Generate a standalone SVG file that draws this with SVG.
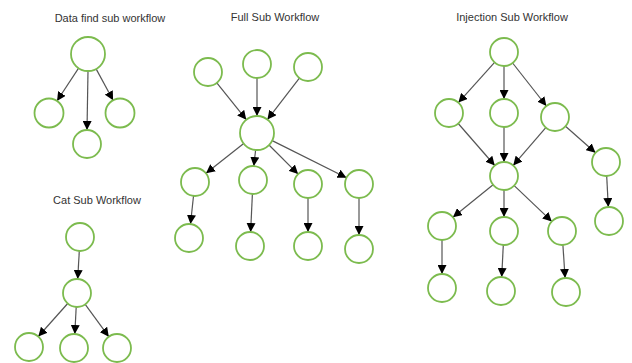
<svg xmlns="http://www.w3.org/2000/svg" width="632" height="363" viewBox="0 0 632 363">
<defs>
<marker id="ah" viewBox="0 0 10 10" refX="10" refY="5" markerWidth="9" markerHeight="9" markerUnits="userSpaceOnUse" orient="auto">
<path d="M0,0 L10,5 L0,10 z" fill="#000"/>
</marker>
<style>
.n{fill:#fff;stroke:#7cbb4e;stroke-width:1.8}
.e{stroke:#555;stroke-width:1.2;fill:none;marker-end:url(#ah)}
.t{font-family:"Liberation Sans",Arial,sans-serif;font-size:11px;fill:#333;text-anchor:middle}
</style>
</defs>
<rect width="632" height="363" fill="#fff"/>
<g id="titles">
<text class="t" x="110" y="22">Data find sub workflow</text>
<text class="t" x="97" y="204">Cat Sub Workflow</text>
<text class="t" x="275" y="21">Full Sub Workflow</text>
<text class="t" x="512" y="21">Injection Sub Workflow</text>
</g>
<g id="connectors">
<line class="e" x1="78.6" y1="68.2" x2="57" y2="101"/>
<line class="e" x1="88" y1="71" x2="87" y2="130"/>
<line class="e" x1="96.1" y1="68.9" x2="113.1" y2="100.3"/>
<line class="e" x1="79.3" y1="251" x2="77.7" y2="279"/>
<line class="e" x1="67.7" y1="303.5" x2="38.3" y2="336.5"/>
<line class="e" x1="76.2" y1="307" x2="74.8" y2="334"/>
<line class="e" x1="85.2" y1="304.3" x2="108.8" y2="336.7"/>
<line class="e" x1="216.8" y1="82.9" x2="246.3" y2="119.7"/>
<line class="e" x1="257" y1="78" x2="257" y2="116"/>
<line class="e" x1="299.4" y1="78.1" x2="267.4" y2="119.6"/>
<line class="e" x1="243.7" y1="143.5" x2="206" y2="173.3"/>
<line class="e" x1="255.6" y1="150" x2="253.8" y2="166"/>
<line class="e" x1="269" y1="145" x2="298.1" y2="174.1"/>
<line class="e" x1="272.2" y1="140.6" x2="346.5" y2="177.7"/>
<line class="e" x1="193.5" y1="196" x2="190.5" y2="224"/>
<line class="e" x1="252.4" y1="194" x2="250.6" y2="232"/>
<line class="e" x1="308" y1="198" x2="308" y2="232"/>
<line class="e" x1="359" y1="198" x2="359" y2="235"/>
<line class="e" x1="494.6" y1="62.4" x2="458.4" y2="102.6"/>
<line class="e" x1="504" y1="66" x2="504" y2="99"/>
<line class="e" x1="512.6" y1="63" x2="546.4" y2="106"/>
<line class="e" x1="458.2" y1="123.5" x2="494.8" y2="165.5"/>
<line class="e" x1="504" y1="127" x2="504" y2="162"/>
<line class="e" x1="545.8" y1="127.6" x2="513.2" y2="165.4"/>
<line class="e" x1="565.5" y1="126.3" x2="595.5" y2="152.7"/>
<line class="e" x1="606.7" y1="176" x2="608.3" y2="207"/>
<line class="e" x1="493.1" y1="184.8" x2="452.9" y2="217.2"/>
<line class="e" x1="504" y1="190" x2="504" y2="217"/>
<line class="e" x1="514.2" y1="185.6" x2="551.8" y2="221.4"/>
<line class="e" x1="442" y1="240" x2="442" y2="274"/>
<line class="e" x1="503.3" y1="245" x2="501.7" y2="277"/>
<line class="e" x1="562.9" y1="245" x2="565.1" y2="278"/>
</g>
<g id="data-find">
<g id="df-root"><circle class="n" cx="88" cy="54" r="17"/></g>
<g id="df-left"><circle class="n" cx="49" cy="113" r="14.5"/></g>
<g id="df-mid"><circle class="n" cx="87" cy="144" r="14"/></g>
<g id="df-right"><circle class="n" cx="120" cy="113" r="14.5"/></g>
</g>
<g id="cat">
<g id="cat-top"><circle class="n" cx="80" cy="237" r="14"/></g>
<g id="cat-mid"><circle class="n" cx="77" cy="293" r="14"/></g>
<g id="cat-bl"><circle class="n" cx="29" cy="347" r="14"/></g>
<g id="cat-bm"><circle class="n" cx="74" cy="348" r="14"/></g>
<g id="cat-br"><circle class="n" cx="117" cy="348" r="14"/></g>
</g>
<g id="full">
<g id="full-tl"><circle class="n" cx="208" cy="72" r="14"/></g>
<g id="full-tm"><circle class="n" cx="257" cy="64" r="14"/></g>
<g id="full-tr"><circle class="n" cx="308" cy="67" r="14"/></g>
<g id="full-c"><circle class="n" cx="257" cy="133" r="17"/></g>
<g id="full-a"><circle class="n" cx="195" cy="182" r="14"/></g>
<g id="full-b"><circle class="n" cx="253" cy="180" r="14"/></g>
<g id="full-cc"><circle class="n" cx="308" cy="184" r="14"/></g>
<g id="full-d"><circle class="n" cx="359" cy="184" r="14"/></g>
<g id="full-a2"><circle class="n" cx="189" cy="238" r="14"/></g>
<g id="full-b2"><circle class="n" cx="250" cy="246" r="14"/></g>
<g id="full-c2"><circle class="n" cx="308" cy="246" r="14"/></g>
<g id="full-d2"><circle class="n" cx="359" cy="249" r="14"/></g>
</g>
<g id="injection">
<g id="inj-top"><circle class="n" cx="504" cy="52" r="14"/></g>
<g id="inj-l"><circle class="n" cx="449" cy="113" r="14"/></g>
<g id="inj-m"><circle class="n" cx="504" cy="113" r="14"/></g>
<g id="inj-r"><circle class="n" cx="555" cy="117" r="14"/></g>
<g id="inj-x"><circle class="n" cx="504" cy="176" r="14"/></g>
<g id="inj-fr"><circle class="n" cx="606" cy="162" r="14"/></g>
<g id="inj-fr2"><circle class="n" cx="609" cy="221" r="14"/></g>
<g id="inj-l4"><circle class="n" cx="442" cy="226" r="14"/></g>
<g id="inj-m4"><circle class="n" cx="504" cy="231" r="14"/></g>
<g id="inj-r4"><circle class="n" cx="562" cy="231" r="14"/></g>
<g id="inj-l5"><circle class="n" cx="442" cy="288" r="14"/></g>
<g id="inj-m5"><circle class="n" cx="501" cy="291" r="14"/></g>
<g id="inj-r5"><circle class="n" cx="566" cy="292" r="14"/></g>
</g>
</svg>
